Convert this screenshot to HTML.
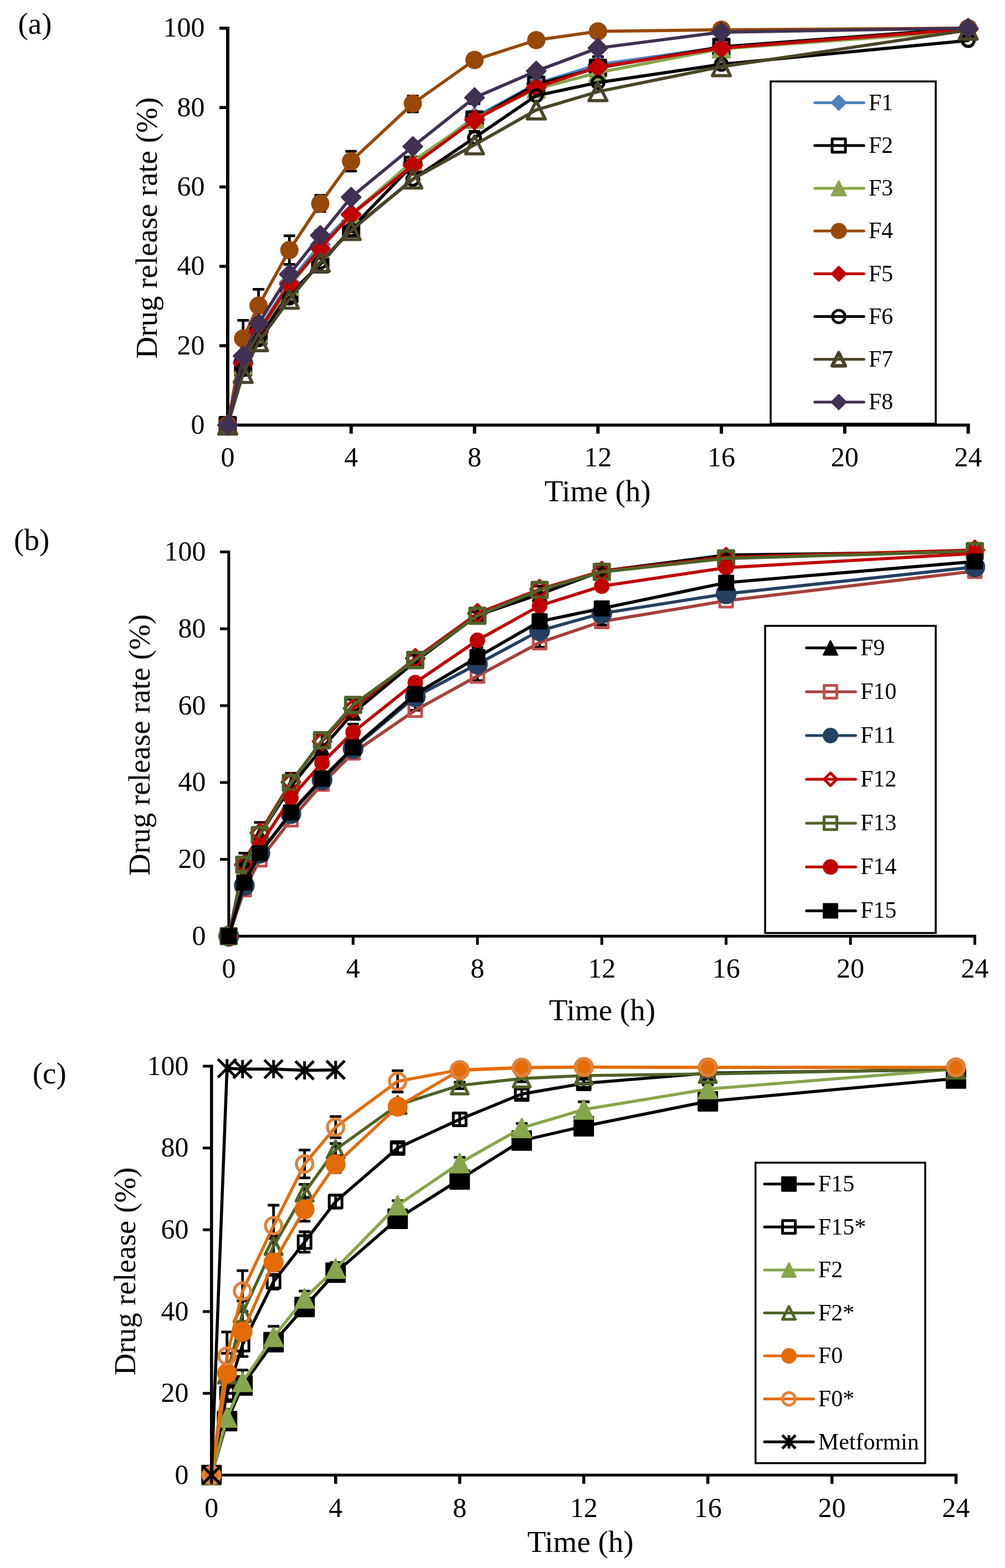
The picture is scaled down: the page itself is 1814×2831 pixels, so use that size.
<!DOCTYPE html>
<html><head><meta charset="utf-8"><title>Drug release profiles</title>
<style>html,body{margin:0;padding:0;background:#fff;}svg{display:block;}text{font-family:"Liberation Serif", "Times New Roman", serif;fill:#000;}</style>
</head><body>
<svg width="1814" height="2831" viewBox="0 0 1814 2831">
<rect width="1814" height="2831" fill="#fff"/>
<g>
<path d="M411 48.15L411 770.25" stroke="#000" stroke-width="6"/>
<path d="M408 767.5L1750.56 767.5" stroke="#000" stroke-width="5.5"/>
<path d="M396 767.5L411 767.5" stroke="#000" stroke-width="5.5"/>
<text x="369.5" y="782.9" text-anchor="end" font-size="50">0</text>
<path d="M396 624.18L411 624.18" stroke="#000" stroke-width="5.5"/>
<text x="369.5" y="639.58" text-anchor="end" font-size="50">20</text>
<path d="M396 480.86L411 480.86" stroke="#000" stroke-width="5.5"/>
<text x="369.5" y="496.26" text-anchor="end" font-size="50">40</text>
<path d="M396 337.54L411 337.54" stroke="#000" stroke-width="5.5"/>
<text x="369.5" y="352.94" text-anchor="end" font-size="50">60</text>
<path d="M396 194.22L411 194.22" stroke="#000" stroke-width="5.5"/>
<text x="369.5" y="209.62" text-anchor="end" font-size="50">80</text>
<path d="M396 50.9L411 50.9" stroke="#000" stroke-width="5.5"/>
<text x="369.5" y="66.3" text-anchor="end" font-size="50">100</text>
<path d="M411 767.5L411 783" stroke="#000" stroke-width="6"/>
<text x="411" y="842.3" text-anchor="middle" font-size="50">0</text>
<path d="M633.76 767.5L633.76 783" stroke="#000" stroke-width="6"/>
<text x="633.76" y="842.3" text-anchor="middle" font-size="50">4</text>
<path d="M856.52 767.5L856.52 783" stroke="#000" stroke-width="6"/>
<text x="856.52" y="842.3" text-anchor="middle" font-size="50">8</text>
<path d="M1079.28 767.5L1079.28 783" stroke="#000" stroke-width="6"/>
<text x="1079.28" y="842.3" text-anchor="middle" font-size="50">12</text>
<path d="M1302.04 767.5L1302.04 783" stroke="#000" stroke-width="6"/>
<text x="1302.04" y="842.3" text-anchor="middle" font-size="50">16</text>
<path d="M1524.8 767.5L1524.8 783" stroke="#000" stroke-width="6"/>
<text x="1524.8" y="842.3" text-anchor="middle" font-size="50">20</text>
<path d="M1747.56 767.5L1747.56 783" stroke="#000" stroke-width="6"/>
<text x="1747.56" y="842.3" text-anchor="middle" font-size="50">24</text>
<text x="1078.7" y="904.9" text-anchor="middle" font-size="55">Time (h)</text>
<text transform="translate(283.3 411.7) rotate(-90)" text-anchor="middle" font-size="55">Drug release rate (%)</text>
<text x="32.5" y="61.1" font-size="55">(a)</text>
<path d="M438.85 667.18L438.85 638.51M428.35 638.51L449.35 638.51M428.35 667.18L449.35 667.18" stroke="#000" stroke-width="4.8" fill="none"/>
<path d="M466.69 613.43L466.69 577.6M456.19 577.6L477.19 577.6M456.19 613.43L477.19 613.43" stroke="#000" stroke-width="4.8" fill="none"/>
<path d="M522.38 521.71L522.38 497.34M511.88 497.34L532.88 497.34M511.88 521.71L532.88 521.71" stroke="#000" stroke-width="4.8" fill="none"/>
<path d="M578.07 466.53L578.07 416.37M567.57 416.37L588.57 416.37M567.57 466.53L588.57 466.53" stroke="#000" stroke-width="4.8" fill="none"/>
<path d="M633.76 418.52L633.76 354.02M623.26 354.02L644.26 354.02M623.26 418.52L644.26 418.52" stroke="#000" stroke-width="4.8" fill="none"/>
<path d="M745.14 305.29L745.14 283.79M734.64 283.79L755.64 283.79M734.64 305.29L755.64 305.29" stroke="#000" stroke-width="4.8" fill="none"/>
<path d="M856.52 237.22L856.52 187.05M846.02 187.05L867.02 187.05M846.02 237.22L867.02 237.22" stroke="#000" stroke-width="4.8" fill="none"/>
<path d="M967.9 169.14L967.9 133.31M957.4 133.31L978.4 133.31M957.4 169.14L978.4 169.14" stroke="#000" stroke-width="4.8" fill="none"/>
<path d="M1079.28 131.16L1079.28 102.5M1068.78 102.5L1089.78 102.5M1068.78 131.16L1089.78 131.16" stroke="#000" stroke-width="4.8" fill="none"/>
<path d="M1302.04 96.05L1302.04 74.55M1291.54 74.55L1312.54 74.55M1291.54 96.05L1312.54 96.05" stroke="#000" stroke-width="4.8" fill="none"/>
<path d="M438.85 642.1L438.85 578.32M428.35 578.32L449.35 578.32M428.35 642.1L449.35 642.1" stroke="#000" stroke-width="4.8" fill="none"/>
<path d="M466.69 581.18L466.69 522.42M456.19 522.42L477.19 522.42M456.19 581.18L477.19 581.18" stroke="#000" stroke-width="4.8" fill="none"/>
<path d="M522.38 477.28L522.38 425.68M511.88 425.68L532.88 425.68M511.88 477.28L532.88 477.28" stroke="#000" stroke-width="4.8" fill="none"/>
<path d="M578.07 381.97L578.07 352.59M567.57 352.59L588.57 352.59M567.57 381.97L588.57 381.97" stroke="#000" stroke-width="4.8" fill="none"/>
<path d="M633.76 308.88L633.76 273.05M623.26 273.05L644.26 273.05M623.26 308.88L644.26 308.88" stroke="#000" stroke-width="4.8" fill="none"/>
<path d="M745.14 202.1L745.14 173.44M734.64 173.44L755.64 173.44M734.64 202.1L755.64 202.1" stroke="#000" stroke-width="4.8" fill="none"/>
<path d="M856.52 118.98L856.52 97.48M846.02 97.48L867.02 97.48M846.02 118.98L867.02 118.98" stroke="#000" stroke-width="4.8" fill="none"/>
<path d="M967.9 79.56L967.9 65.23M957.4 65.23L978.4 65.23M957.4 79.56L978.4 79.56" stroke="#000" stroke-width="4.8" fill="none"/>
<path d="M1079.28 61.65L1079.28 50.9M1068.78 50.9L1089.78 50.9M1068.78 61.65L1089.78 61.65" stroke="#000" stroke-width="4.8" fill="none"/>
<path d="M411 767.5 L438.85 652.84 L466.69 595.52 L522.38 509.52 L578.07 441.45 L633.76 386.27 L745.14 294.54 L856.52 212.13 L967.9 151.22 L1079.28 116.83 L1302.04 85.3 L1747.56 53.05" fill="none" stroke="#4F81BD" stroke-width="5.7" stroke-linejoin="round" stroke-linecap="round"/>
<polygon points="411,750.25 428.25,767.5 411,784.75 393.75,767.5" fill="#4F81BD" stroke="#4F81BD" stroke-width="3" stroke-linejoin="round"/>
<polygon points="438.85,635.59 456.1,652.84 438.85,670.09 421.6,652.84" fill="#4F81BD" stroke="#4F81BD" stroke-width="3" stroke-linejoin="round"/>
<polygon points="466.69,578.27 483.94,595.52 466.69,612.77 449.44,595.52" fill="#4F81BD" stroke="#4F81BD" stroke-width="3" stroke-linejoin="round"/>
<polygon points="522.38,492.27 539.63,509.52 522.38,526.77 505.13,509.52" fill="#4F81BD" stroke="#4F81BD" stroke-width="3" stroke-linejoin="round"/>
<polygon points="578.07,424.2 595.32,441.45 578.07,458.7 560.82,441.45" fill="#4F81BD" stroke="#4F81BD" stroke-width="3" stroke-linejoin="round"/>
<polygon points="633.76,369.02 651.01,386.27 633.76,403.52 616.51,386.27" fill="#4F81BD" stroke="#4F81BD" stroke-width="3" stroke-linejoin="round"/>
<polygon points="745.14,277.29 762.39,294.54 745.14,311.79 727.89,294.54" fill="#4F81BD" stroke="#4F81BD" stroke-width="3" stroke-linejoin="round"/>
<polygon points="856.52,194.88 873.77,212.13 856.52,229.38 839.27,212.13" fill="#4F81BD" stroke="#4F81BD" stroke-width="3" stroke-linejoin="round"/>
<polygon points="967.9,133.97 985.15,151.22 967.9,168.47 950.65,151.22" fill="#4F81BD" stroke="#4F81BD" stroke-width="3" stroke-linejoin="round"/>
<polygon points="1079.28,99.58 1096.53,116.83 1079.28,134.08 1062.03,116.83" fill="#4F81BD" stroke="#4F81BD" stroke-width="3" stroke-linejoin="round"/>
<polygon points="1302.04,68.05 1319.29,85.3 1302.04,102.55 1284.79,85.3" fill="#4F81BD" stroke="#4F81BD" stroke-width="3" stroke-linejoin="round"/>
<polygon points="1747.56,35.8 1764.81,53.05 1747.56,70.3 1730.31,53.05" fill="#4F81BD" stroke="#4F81BD" stroke-width="3" stroke-linejoin="round"/>
<path d="M411 767.5 L438.85 663.59 L466.69 606.26 L522.38 531.02 L578.07 477.28 L633.76 412.78 L745.14 297.41 L856.52 215.72 L967.9 152.66 L1079.28 122.56 L1302.04 84.58 L1747.56 50.9" fill="none" stroke="#000" stroke-width="5.7" stroke-linejoin="round" stroke-linecap="round"/>
<rect x="397.25" y="753.75" width="27.5" height="27.5" fill="none" stroke="#000" stroke-width="5.5" stroke-linejoin="round"/>
<rect x="425.1" y="649.84" width="27.5" height="27.5" fill="none" stroke="#000" stroke-width="5.5" stroke-linejoin="round"/>
<rect x="452.94" y="592.51" width="27.5" height="27.5" fill="none" stroke="#000" stroke-width="5.5" stroke-linejoin="round"/>
<rect x="508.63" y="517.27" width="27.5" height="27.5" fill="none" stroke="#000" stroke-width="5.5" stroke-linejoin="round"/>
<rect x="564.32" y="463.53" width="27.5" height="27.5" fill="none" stroke="#000" stroke-width="5.5" stroke-linejoin="round"/>
<rect x="620.01" y="399.03" width="27.5" height="27.5" fill="none" stroke="#000" stroke-width="5.5" stroke-linejoin="round"/>
<rect x="731.39" y="283.66" width="27.5" height="27.5" fill="none" stroke="#000" stroke-width="5.5" stroke-linejoin="round"/>
<rect x="842.77" y="201.97" width="27.5" height="27.5" fill="none" stroke="#000" stroke-width="5.5" stroke-linejoin="round"/>
<rect x="954.15" y="138.91" width="27.5" height="27.5" fill="none" stroke="#000" stroke-width="5.5" stroke-linejoin="round"/>
<rect x="1065.53" y="108.81" width="27.5" height="27.5" fill="none" stroke="#000" stroke-width="5.5" stroke-linejoin="round"/>
<rect x="1288.29" y="70.83" width="27.5" height="27.5" fill="none" stroke="#000" stroke-width="5.5" stroke-linejoin="round"/>
<path d="M411 767.5 L438.85 660.01 L466.69 602.68 L522.38 516.69 L578.07 448.61 L633.76 387.7 L745.14 290.96 L856.52 214.28 L967.9 160.54 L1079.28 131.16 L1302.04 88.16 L1747.56 55.92" fill="none" stroke="#87A54C" stroke-width="5.7" stroke-linejoin="round" stroke-linecap="round"/>
<polygon points="411,751.5 427,783.5 395,783.5" fill="#87A54C" stroke="#87A54C" stroke-width="3" stroke-linejoin="round"/>
<polygon points="438.85,644.01 454.85,676.01 422.85,676.01" fill="#87A54C" stroke="#87A54C" stroke-width="3" stroke-linejoin="round"/>
<polygon points="466.69,586.68 482.69,618.68 450.69,618.68" fill="#87A54C" stroke="#87A54C" stroke-width="3" stroke-linejoin="round"/>
<polygon points="522.38,500.69 538.38,532.69 506.38,532.69" fill="#87A54C" stroke="#87A54C" stroke-width="3" stroke-linejoin="round"/>
<polygon points="578.07,432.61 594.07,464.61 562.07,464.61" fill="#87A54C" stroke="#87A54C" stroke-width="3" stroke-linejoin="round"/>
<polygon points="633.76,371.7 649.76,403.7 617.76,403.7" fill="#87A54C" stroke="#87A54C" stroke-width="3" stroke-linejoin="round"/>
<polygon points="745.14,274.96 761.14,306.96 729.14,306.96" fill="#87A54C" stroke="#87A54C" stroke-width="3" stroke-linejoin="round"/>
<polygon points="856.52,198.28 872.52,230.28 840.52,230.28" fill="#87A54C" stroke="#87A54C" stroke-width="3" stroke-linejoin="round"/>
<polygon points="967.9,144.54 983.9,176.54 951.9,176.54" fill="#87A54C" stroke="#87A54C" stroke-width="3" stroke-linejoin="round"/>
<polygon points="1079.28,115.16 1095.28,147.16 1063.28,147.16" fill="#87A54C" stroke="#87A54C" stroke-width="3" stroke-linejoin="round"/>
<polygon points="1302.04,72.16 1318.04,104.16 1286.04,104.16" fill="#87A54C" stroke="#87A54C" stroke-width="3" stroke-linejoin="round"/>
<polygon points="1747.56,39.92 1763.56,71.92 1731.56,71.92" fill="#87A54C" stroke="#87A54C" stroke-width="3" stroke-linejoin="round"/>
<path d="M411 767.5 L438.85 611.28 L466.69 551.8 L522.38 451.48 L578.07 367.64 L633.76 290.96 L745.14 187.05 L856.52 108.23 L967.9 72.4 L1079.28 56.63 L1302.04 53.77 L1747.56 50.9" fill="none" stroke="#984807" stroke-width="5.7" stroke-linejoin="round" stroke-linecap="round"/>
<circle cx="411" cy="767.5" r="15" fill="#984807" stroke="#984807" stroke-width="3" stroke-linejoin="round"/>
<circle cx="438.85" cy="611.28" r="15" fill="#984807" stroke="#984807" stroke-width="3" stroke-linejoin="round"/>
<circle cx="466.69" cy="551.8" r="15" fill="#984807" stroke="#984807" stroke-width="3" stroke-linejoin="round"/>
<circle cx="522.38" cy="451.48" r="15" fill="#984807" stroke="#984807" stroke-width="3" stroke-linejoin="round"/>
<circle cx="578.07" cy="367.64" r="15" fill="#984807" stroke="#984807" stroke-width="3" stroke-linejoin="round"/>
<circle cx="633.76" cy="290.96" r="15" fill="#984807" stroke="#984807" stroke-width="3" stroke-linejoin="round"/>
<circle cx="745.14" cy="187.05" r="15" fill="#984807" stroke="#984807" stroke-width="3" stroke-linejoin="round"/>
<circle cx="856.52" cy="108.23" r="15" fill="#984807" stroke="#984807" stroke-width="3" stroke-linejoin="round"/>
<circle cx="967.9" cy="72.4" r="15" fill="#984807" stroke="#984807" stroke-width="3" stroke-linejoin="round"/>
<circle cx="1079.28" cy="56.63" r="15" fill="#984807" stroke="#984807" stroke-width="3" stroke-linejoin="round"/>
<circle cx="1302.04" cy="53.77" r="15" fill="#984807" stroke="#984807" stroke-width="3" stroke-linejoin="round"/>
<circle cx="1747.56" cy="50.9" r="15" fill="#984807" stroke="#984807" stroke-width="3" stroke-linejoin="round"/>
<path d="M411 767.5 L438.85 656.43 L466.69 599.1 L522.38 513.11 L578.07 448.61 L633.76 387.7 L745.14 298.49 L856.52 216.43 L967.9 157.67 L1079.28 121.13 L1302.04 86.73 L1747.56 52.33" fill="none" stroke="#C00000" stroke-width="5.7" stroke-linejoin="round" stroke-linecap="round"/>
<polygon points="411,750.25 428.25,767.5 411,784.75 393.75,767.5" fill="#C00000" stroke="#C00000" stroke-width="3" stroke-linejoin="round"/>
<polygon points="438.85,639.18 456.1,656.43 438.85,673.68 421.6,656.43" fill="#C00000" stroke="#C00000" stroke-width="3" stroke-linejoin="round"/>
<polygon points="466.69,581.85 483.94,599.1 466.69,616.35 449.44,599.1" fill="#C00000" stroke="#C00000" stroke-width="3" stroke-linejoin="round"/>
<polygon points="522.38,495.86 539.63,513.11 522.38,530.36 505.13,513.11" fill="#C00000" stroke="#C00000" stroke-width="3" stroke-linejoin="round"/>
<polygon points="578.07,431.36 595.32,448.61 578.07,465.86 560.82,448.61" fill="#C00000" stroke="#C00000" stroke-width="3" stroke-linejoin="round"/>
<polygon points="633.76,370.45 651.01,387.7 633.76,404.95 616.51,387.7" fill="#C00000" stroke="#C00000" stroke-width="3" stroke-linejoin="round"/>
<polygon points="745.14,281.24 762.39,298.49 745.14,315.74 727.89,298.49" fill="#C00000" stroke="#C00000" stroke-width="3" stroke-linejoin="round"/>
<polygon points="856.52,199.18 873.77,216.43 856.52,233.68 839.27,216.43" fill="#C00000" stroke="#C00000" stroke-width="3" stroke-linejoin="round"/>
<polygon points="967.9,140.42 985.15,157.67 967.9,174.92 950.65,157.67" fill="#C00000" stroke="#C00000" stroke-width="3" stroke-linejoin="round"/>
<polygon points="1079.28,103.88 1096.53,121.13 1079.28,138.38 1062.03,121.13" fill="#C00000" stroke="#C00000" stroke-width="3" stroke-linejoin="round"/>
<polygon points="1302.04,69.48 1319.29,86.73 1302.04,103.98 1284.79,86.73" fill="#C00000" stroke="#C00000" stroke-width="3" stroke-linejoin="round"/>
<polygon points="1747.56,35.08 1764.81,52.33 1747.56,69.58 1730.31,52.33" fill="#C00000" stroke="#C00000" stroke-width="3" stroke-linejoin="round"/>
<path d="M411 767.5 L438.85 667.18 L466.69 613.43 L522.38 538.19 L578.07 473.69 L633.76 414.93 L745.14 323.92 L856.52 248.68 L967.9 172.72 L1079.28 149.07 L1302.04 116.11 L1747.56 73.11" fill="none" stroke="#000" stroke-width="5.7" stroke-linejoin="round" stroke-linecap="round"/>
<circle cx="411" cy="767.5" r="10.75" fill="none" stroke="#000" stroke-width="5.5" stroke-linejoin="round"/>
<circle cx="438.85" cy="667.18" r="10.75" fill="none" stroke="#000" stroke-width="5.5" stroke-linejoin="round"/>
<circle cx="466.69" cy="613.43" r="10.75" fill="none" stroke="#000" stroke-width="5.5" stroke-linejoin="round"/>
<circle cx="522.38" cy="538.19" r="10.75" fill="none" stroke="#000" stroke-width="5.5" stroke-linejoin="round"/>
<circle cx="578.07" cy="473.69" r="10.75" fill="none" stroke="#000" stroke-width="5.5" stroke-linejoin="round"/>
<circle cx="633.76" cy="414.93" r="10.75" fill="none" stroke="#000" stroke-width="5.5" stroke-linejoin="round"/>
<circle cx="745.14" cy="323.92" r="10.75" fill="none" stroke="#000" stroke-width="5.5" stroke-linejoin="round"/>
<circle cx="856.52" cy="248.68" r="10.75" fill="none" stroke="#000" stroke-width="5.5" stroke-linejoin="round"/>
<circle cx="967.9" cy="172.72" r="10.75" fill="none" stroke="#000" stroke-width="5.5" stroke-linejoin="round"/>
<circle cx="1079.28" cy="149.07" r="10.75" fill="none" stroke="#000" stroke-width="5.5" stroke-linejoin="round"/>
<circle cx="1302.04" cy="116.11" r="10.75" fill="none" stroke="#000" stroke-width="5.5" stroke-linejoin="round"/>
<circle cx="1747.56" cy="73.11" r="10.75" fill="none" stroke="#000" stroke-width="5.5" stroke-linejoin="round"/>
<path d="M411 767.5 L438.85 674.34 L466.69 617.01 L522.38 540.34 L578.07 473.69 L633.76 416.37 L745.14 323.21 L856.52 261.58 L967.9 198.52 L1079.28 165.56 L1302.04 120.41 L1747.56 54.48" fill="none" stroke="#4A452A" stroke-width="5.7" stroke-linejoin="round" stroke-linecap="round"/>
<polygon points="411,751.35 427.15,783.65 394.85,783.65" fill="none" stroke="#4A452A" stroke-width="5.7" stroke-linejoin="round"/>
<polygon points="438.85,658.19 455,690.49 422.7,690.49" fill="none" stroke="#4A452A" stroke-width="5.7" stroke-linejoin="round"/>
<polygon points="466.69,600.86 482.84,633.16 450.54,633.16" fill="none" stroke="#4A452A" stroke-width="5.7" stroke-linejoin="round"/>
<polygon points="522.38,524.19 538.53,556.49 506.23,556.49" fill="none" stroke="#4A452A" stroke-width="5.7" stroke-linejoin="round"/>
<polygon points="578.07,457.54 594.22,489.84 561.92,489.84" fill="none" stroke="#4A452A" stroke-width="5.7" stroke-linejoin="round"/>
<polygon points="633.76,400.22 649.91,432.52 617.61,432.52" fill="none" stroke="#4A452A" stroke-width="5.7" stroke-linejoin="round"/>
<polygon points="745.14,307.06 761.29,339.36 728.99,339.36" fill="none" stroke="#4A452A" stroke-width="5.7" stroke-linejoin="round"/>
<polygon points="856.52,245.43 872.67,277.73 840.37,277.73" fill="none" stroke="#4A452A" stroke-width="5.7" stroke-linejoin="round"/>
<polygon points="967.9,182.37 984.05,214.67 951.75,214.67" fill="none" stroke="#4A452A" stroke-width="5.7" stroke-linejoin="round"/>
<polygon points="1079.28,149.41 1095.43,181.71 1063.13,181.71" fill="none" stroke="#4A452A" stroke-width="5.7" stroke-linejoin="round"/>
<polygon points="1302.04,104.26 1318.19,136.56 1285.89,136.56" fill="none" stroke="#4A452A" stroke-width="5.7" stroke-linejoin="round"/>
<polygon points="1747.56,38.33 1763.71,70.63 1731.41,70.63" fill="none" stroke="#4A452A" stroke-width="5.7" stroke-linejoin="round"/>
<path d="M411 767.5 L438.85 642.81 L466.69 584.05 L522.38 495.19 L578.07 424.97 L633.76 356.17 L745.14 264.45 L856.52 176.3 L967.9 128.29 L1079.28 86.73 L1302.04 58.07 L1747.56 50.9" fill="none" stroke="#403152" stroke-width="5.7" stroke-linejoin="round" stroke-linecap="round"/>
<polygon points="411,750.25 428.25,767.5 411,784.75 393.75,767.5" fill="#403152" stroke="#403152" stroke-width="3" stroke-linejoin="round"/>
<polygon points="438.85,625.56 456.1,642.81 438.85,660.06 421.6,642.81" fill="#403152" stroke="#403152" stroke-width="3" stroke-linejoin="round"/>
<polygon points="466.69,566.8 483.94,584.05 466.69,601.3 449.44,584.05" fill="#403152" stroke="#403152" stroke-width="3" stroke-linejoin="round"/>
<polygon points="522.38,477.94 539.63,495.19 522.38,512.44 505.13,495.19" fill="#403152" stroke="#403152" stroke-width="3" stroke-linejoin="round"/>
<polygon points="578.07,407.72 595.32,424.97 578.07,442.22 560.82,424.97" fill="#403152" stroke="#403152" stroke-width="3" stroke-linejoin="round"/>
<polygon points="633.76,338.92 651.01,356.17 633.76,373.42 616.51,356.17" fill="#403152" stroke="#403152" stroke-width="3" stroke-linejoin="round"/>
<polygon points="745.14,247.2 762.39,264.45 745.14,281.7 727.89,264.45" fill="#403152" stroke="#403152" stroke-width="3" stroke-linejoin="round"/>
<polygon points="856.52,159.05 873.77,176.3 856.52,193.55 839.27,176.3" fill="#403152" stroke="#403152" stroke-width="3" stroke-linejoin="round"/>
<polygon points="967.9,111.04 985.15,128.29 967.9,145.54 950.65,128.29" fill="#403152" stroke="#403152" stroke-width="3" stroke-linejoin="round"/>
<polygon points="1079.28,69.48 1096.53,86.73 1079.28,103.98 1062.03,86.73" fill="#403152" stroke="#403152" stroke-width="3" stroke-linejoin="round"/>
<polygon points="1302.04,40.82 1319.29,58.07 1302.04,75.32 1284.79,58.07" fill="#403152" stroke="#403152" stroke-width="3" stroke-linejoin="round"/>
<polygon points="1747.56,33.65 1764.81,50.9 1747.56,68.15 1730.31,50.9" fill="#403152" stroke="#403152" stroke-width="3" stroke-linejoin="round"/>
<rect x="1391" y="147" width="298" height="618" fill="#fff" stroke="#000" stroke-width="3.5"/>
<path d="M1470.8 185.5L1559.2 185.5" stroke="#4F81BD" stroke-width="5" stroke-linecap="round"/>
<polygon points="1514,172.5 1527,185.5 1514,198.5 1501,185.5" fill="#4F81BD" stroke="#4F81BD" stroke-width="3" stroke-linejoin="round"/>
<text x="1567.7" y="198.8" font-size="42">F1</text>
<path d="M1470.8 262.7L1559.2 262.7" stroke="#000" stroke-width="5" stroke-linecap="round"/>
<rect x="1502" y="250.7" width="24" height="24" fill="none" stroke="#000" stroke-width="5" stroke-linejoin="round"/>
<text x="1567.7" y="276" font-size="42">F2</text>
<path d="M1470.8 339.9L1559.2 339.9" stroke="#87A54C" stroke-width="5" stroke-linecap="round"/>
<polygon points="1514,326.9 1527,352.9 1501,352.9" fill="#87A54C" stroke="#87A54C" stroke-width="3" stroke-linejoin="round"/>
<text x="1567.7" y="353.2" font-size="42">F3</text>
<path d="M1470.8 417.1L1559.2 417.1" stroke="#984807" stroke-width="5" stroke-linecap="round"/>
<circle cx="1514" cy="417.1" r="13" fill="#984807" stroke="#984807" stroke-width="3" stroke-linejoin="round"/>
<text x="1567.7" y="430.4" font-size="42">F4</text>
<path d="M1470.8 494.3L1559.2 494.3" stroke="#C00000" stroke-width="5" stroke-linecap="round"/>
<polygon points="1514,481.3 1527,494.3 1514,507.3 1501,494.3" fill="#C00000" stroke="#C00000" stroke-width="3" stroke-linejoin="round"/>
<text x="1567.7" y="507.6" font-size="42">F5</text>
<path d="M1470.8 571.5L1559.2 571.5" stroke="#000" stroke-width="5" stroke-linecap="round"/>
<circle cx="1514" cy="571.5" r="11.35" fill="none" stroke="#000" stroke-width="4.8" stroke-linejoin="round"/>
<text x="1567.7" y="584.8" font-size="42">F6</text>
<path d="M1470.8 648.7L1559.2 648.7" stroke="#4A452A" stroke-width="5" stroke-linecap="round"/>
<polygon points="1514,636.95 1525.75,660.45 1502.25,660.45" fill="none" stroke="#4A452A" stroke-width="6.5" stroke-linejoin="round"/>
<text x="1567.7" y="662" font-size="42">F7</text>
<path d="M1470.8 725.9L1559.2 725.9" stroke="#403152" stroke-width="5" stroke-linecap="round"/>
<polygon points="1514,712.9 1527,725.9 1514,738.9 1501,725.9" fill="#403152" stroke="#403152" stroke-width="3" stroke-linejoin="round"/>
<text x="1567.7" y="739.2" font-size="42">F8</text>
</g>
<g>
<path d="M412.9 994L412.9 1692.8" stroke="#000" stroke-width="5"/>
<path d="M410.4 1690.3L1762.04 1690.3" stroke="#000" stroke-width="5"/>
<path d="M397 1690.3L412.9 1690.3" stroke="#000" stroke-width="5"/>
<text x="371.5" y="1705.8" text-anchor="end" font-size="50">0</text>
<path d="M397 1551.54L412.9 1551.54" stroke="#000" stroke-width="5"/>
<text x="371.5" y="1567.04" text-anchor="end" font-size="50">20</text>
<path d="M397 1412.78L412.9 1412.78" stroke="#000" stroke-width="5"/>
<text x="371.5" y="1428.28" text-anchor="end" font-size="50">40</text>
<path d="M397 1274.02L412.9 1274.02" stroke="#000" stroke-width="5"/>
<text x="371.5" y="1289.52" text-anchor="end" font-size="50">60</text>
<path d="M397 1135.26L412.9 1135.26" stroke="#000" stroke-width="5"/>
<text x="371.5" y="1150.76" text-anchor="end" font-size="50">80</text>
<path d="M397 996.5L412.9 996.5" stroke="#000" stroke-width="5"/>
<text x="371.5" y="1012" text-anchor="end" font-size="50">100</text>
<path d="M412.9 1690.3L412.9 1705.8" stroke="#000" stroke-width="5"/>
<text x="412.9" y="1765.3" text-anchor="middle" font-size="50">0</text>
<path d="M637.34 1690.3L637.34 1705.8" stroke="#000" stroke-width="5"/>
<text x="637.34" y="1765.3" text-anchor="middle" font-size="50">4</text>
<path d="M861.78 1690.3L861.78 1705.8" stroke="#000" stroke-width="5"/>
<text x="861.78" y="1765.3" text-anchor="middle" font-size="50">8</text>
<path d="M1086.22 1690.3L1086.22 1705.8" stroke="#000" stroke-width="5"/>
<text x="1086.22" y="1765.3" text-anchor="middle" font-size="50">12</text>
<path d="M1310.66 1690.3L1310.66 1705.8" stroke="#000" stroke-width="5"/>
<text x="1310.66" y="1765.3" text-anchor="middle" font-size="50">16</text>
<path d="M1535.1 1690.3L1535.1 1705.8" stroke="#000" stroke-width="5"/>
<text x="1535.1" y="1765.3" text-anchor="middle" font-size="50">20</text>
<path d="M1759.54 1690.3L1759.54 1705.8" stroke="#000" stroke-width="5"/>
<text x="1759.54" y="1765.3" text-anchor="middle" font-size="50">24</text>
<text x="1087" y="1842" text-anchor="middle" font-size="55">Time (h)</text>
<text transform="translate(269.5 1345) rotate(-90)" text-anchor="middle" font-size="55">Drug release rate (%)</text>
<text x="25.1" y="992.5" font-size="55">(b)</text>
<path d="M440.95 1609.13L440.95 1588.31M430.45 1588.31L451.45 1588.31M430.45 1609.13L451.45 1609.13" stroke="#000" stroke-width="4.8" fill="none"/>
<path d="M469.01 1550.85L469.01 1530.03M458.51 1530.03L479.51 1530.03M458.51 1550.85L479.51 1550.85" stroke="#000" stroke-width="4.8" fill="none"/>
<path d="M525.12 1482.85L525.12 1455.1M514.62 1455.1L535.62 1455.1M514.62 1482.85L535.62 1482.85" stroke="#000" stroke-width="4.8" fill="none"/>
<path d="M581.23 1421.8L581.23 1394.05M570.73 1394.05L591.73 1394.05M570.73 1421.8L591.73 1421.8" stroke="#000" stroke-width="4.8" fill="none"/>
<path d="M637.34 1369.07L637.34 1334.38M626.84 1334.38L647.84 1334.38M626.84 1369.07L647.84 1369.07" stroke="#000" stroke-width="4.8" fill="none"/>
<path d="M749.56 1282.35L749.56 1233.78M739.06 1233.78L760.06 1233.78M739.06 1282.35L760.06 1282.35" stroke="#000" stroke-width="4.8" fill="none"/>
<path d="M861.78 1228.92L861.78 1169.26M851.28 1169.26L872.28 1169.26M851.28 1228.92L872.28 1228.92" stroke="#000" stroke-width="4.8" fill="none"/>
<path d="M974 1168.56L974 1108.9M963.5 1108.9L984.5 1108.9M963.5 1168.56L984.5 1168.56" stroke="#000" stroke-width="4.8" fill="none"/>
<path d="M1086.22 1128.32L1086.22 1086.69M1075.72 1086.69L1096.72 1086.69M1075.72 1128.32L1096.72 1128.32" stroke="#000" stroke-width="4.8" fill="none"/>
<path d="M1310.66 1086L1310.66 1058.25M1300.16 1058.25L1321.16 1058.25M1300.16 1086L1321.16 1086" stroke="#000" stroke-width="4.8" fill="none"/>
<path d="M1759.54 1030.5L1759.54 1016.62M1749.04 1016.62L1770.04 1016.62M1749.04 1030.5L1770.04 1030.5" stroke="#000" stroke-width="4.8" fill="none"/>
<path d="M440.95 1582.07L440.95 1540.44M430.45 1540.44L451.45 1540.44M430.45 1582.07L451.45 1582.07" stroke="#000" stroke-width="4.8" fill="none"/>
<path d="M469.01 1530.73L469.01 1484.94M458.51 1484.94L479.51 1484.94M458.51 1530.73L479.51 1530.73" stroke="#000" stroke-width="4.8" fill="none"/>
<path d="M525.12 1430.82L525.12 1396.13M514.62 1396.13L535.62 1396.13M514.62 1430.82L535.62 1430.82" stroke="#000" stroke-width="4.8" fill="none"/>
<path d="M581.23 1346.87L581.23 1326.05M570.73 1326.05L591.73 1326.05M570.73 1346.87L591.73 1346.87" stroke="#000" stroke-width="4.8" fill="none"/>
<path d="M637.34 1283.04L637.34 1262.23M626.84 1262.23L647.84 1262.23M626.84 1283.04L647.84 1283.04" stroke="#000" stroke-width="4.8" fill="none"/>
<path d="M749.56 1199.78L749.56 1183.13M739.06 1183.13L760.06 1183.13M739.06 1199.78L760.06 1199.78" stroke="#000" stroke-width="4.8" fill="none"/>
<path d="M861.78 1118.61L861.78 1104.73M851.28 1104.73L872.28 1104.73M851.28 1118.61L872.28 1118.61" stroke="#000" stroke-width="4.8" fill="none"/>
<path d="M974 1072.12L974 1058.25M963.5 1058.25L984.5 1058.25M963.5 1072.12L984.5 1072.12" stroke="#000" stroke-width="4.8" fill="none"/>
<path d="M1086.22 1038.13L1086.22 1027.03M1075.72 1027.03L1096.72 1027.03M1075.72 1038.13L1096.72 1038.13" stroke="#000" stroke-width="4.8" fill="none"/>
<path d="M1310.66 1012.46L1310.66 1004.13M1300.16 1004.13L1321.16 1004.13M1300.16 1012.46L1321.16 1012.46" stroke="#000" stroke-width="4.8" fill="none"/>
<path d="M469.01 1533.5L469.01 1519.63M458.51 1519.63L479.51 1519.63M458.51 1533.5L479.51 1533.5" stroke="#000" stroke-width="4.8" fill="none"/>
<path d="M525.12 1447.47L525.12 1433.59M514.62 1433.59L535.62 1433.59M514.62 1447.47L535.62 1447.47" stroke="#000" stroke-width="4.8" fill="none"/>
<path d="M581.23 1384.33L581.23 1370.46M570.73 1370.46L591.73 1370.46M570.73 1384.33L591.73 1384.33" stroke="#000" stroke-width="4.8" fill="none"/>
<path d="M637.34 1336.46L637.34 1307.32M626.84 1307.32L647.84 1307.32M626.84 1336.46L647.84 1336.46" stroke="#000" stroke-width="4.8" fill="none"/>
<path d="M749.56 1239.33L749.56 1225.45M739.06 1225.45L760.06 1225.45M739.06 1239.33L760.06 1239.33" stroke="#000" stroke-width="4.8" fill="none"/>
<path d="M861.78 1163.01L861.78 1149.14M851.28 1149.14L872.28 1149.14M851.28 1163.01L872.28 1163.01" stroke="#000" stroke-width="4.8" fill="none"/>
<path d="M974 1100.57L974 1086.69M963.5 1086.69L984.5 1086.69M963.5 1100.57L984.5 1100.57" stroke="#000" stroke-width="4.8" fill="none"/>
<path d="M1086.22 1065.19L1086.22 1051.31M1075.72 1051.31L1096.72 1051.31M1075.72 1065.19L1096.72 1065.19" stroke="#000" stroke-width="4.8" fill="none"/>
<path d="M1310.66 1031.88L1310.66 1018.01M1300.16 1018.01L1321.16 1018.01M1300.16 1031.88L1321.16 1031.88" stroke="#000" stroke-width="4.8" fill="none"/>
<path d="M412.9 1690.3 L440.95 1555.01 L469.01 1507.14 L525.12 1419.72 L581.23 1351.03 L637.34 1287.2 L749.56 1194.23 L861.78 1110.98 L974 1072.82 L1086.22 1031.19 L1310.66 1002.05 L1759.54 996.5" fill="none" stroke="#000" stroke-width="5.7" stroke-linejoin="round" stroke-linecap="round"/>
<polygon points="412.9,1677.8 425.4,1702.8 400.4,1702.8" fill="#000" stroke="#000" stroke-width="3" stroke-linejoin="round"/>
<polygon points="440.95,1542.51 453.45,1567.51 428.45,1567.51" fill="#000" stroke="#000" stroke-width="3" stroke-linejoin="round"/>
<polygon points="469.01,1494.64 481.51,1519.64 456.51,1519.64" fill="#000" stroke="#000" stroke-width="3" stroke-linejoin="round"/>
<polygon points="525.12,1407.22 537.62,1432.22 512.62,1432.22" fill="#000" stroke="#000" stroke-width="3" stroke-linejoin="round"/>
<polygon points="581.23,1338.53 593.73,1363.53 568.73,1363.53" fill="#000" stroke="#000" stroke-width="3" stroke-linejoin="round"/>
<polygon points="637.34,1274.7 649.84,1299.7 624.84,1299.7" fill="#000" stroke="#000" stroke-width="3" stroke-linejoin="round"/>
<polygon points="749.56,1181.73 762.06,1206.73 737.06,1206.73" fill="#000" stroke="#000" stroke-width="3" stroke-linejoin="round"/>
<polygon points="861.78,1098.48 874.28,1123.48 849.28,1123.48" fill="#000" stroke="#000" stroke-width="3" stroke-linejoin="round"/>
<polygon points="974,1060.32 986.5,1085.32 961.5,1085.32" fill="#000" stroke="#000" stroke-width="3" stroke-linejoin="round"/>
<polygon points="1086.22,1018.69 1098.72,1043.69 1073.72,1043.69" fill="#000" stroke="#000" stroke-width="3" stroke-linejoin="round"/>
<polygon points="1310.66,989.55 1323.16,1014.55 1298.16,1014.55" fill="#000" stroke="#000" stroke-width="3" stroke-linejoin="round"/>
<polygon points="1759.54,984 1772.04,1009 1747.04,1009" fill="#000" stroke="#000" stroke-width="3" stroke-linejoin="round"/>
<path d="M412.9 1690.3 L440.95 1606.35 L469.01 1552.23 L525.12 1480.08 L581.23 1415.56 L637.34 1359.36 L749.56 1282.35 L861.78 1220.6 L974 1160.24 L1086.22 1122.08 L1310.66 1084.61 L1759.54 1031.19" fill="none" stroke="#A5403D" stroke-width="5.7" stroke-linejoin="round" stroke-linecap="round"/>
<rect x="401.4" y="1678.8" width="23" height="23" fill="none" stroke="#C0504D" stroke-width="5" stroke-linejoin="round"/>
<rect x="429.45" y="1594.85" width="23" height="23" fill="none" stroke="#C0504D" stroke-width="5" stroke-linejoin="round"/>
<rect x="457.51" y="1540.73" width="23" height="23" fill="none" stroke="#C0504D" stroke-width="5" stroke-linejoin="round"/>
<rect x="513.62" y="1468.58" width="23" height="23" fill="none" stroke="#C0504D" stroke-width="5" stroke-linejoin="round"/>
<rect x="569.73" y="1404.06" width="23" height="23" fill="none" stroke="#C0504D" stroke-width="5" stroke-linejoin="round"/>
<rect x="625.84" y="1347.86" width="23" height="23" fill="none" stroke="#C0504D" stroke-width="5" stroke-linejoin="round"/>
<rect x="738.06" y="1270.85" width="23" height="23" fill="none" stroke="#C0504D" stroke-width="5" stroke-linejoin="round"/>
<rect x="850.28" y="1209.1" width="23" height="23" fill="none" stroke="#C0504D" stroke-width="5" stroke-linejoin="round"/>
<rect x="962.5" y="1148.74" width="23" height="23" fill="none" stroke="#C0504D" stroke-width="5" stroke-linejoin="round"/>
<rect x="1074.72" y="1110.58" width="23" height="23" fill="none" stroke="#C0504D" stroke-width="5" stroke-linejoin="round"/>
<rect x="1299.16" y="1073.11" width="23" height="23" fill="none" stroke="#C0504D" stroke-width="5" stroke-linejoin="round"/>
<rect x="1748.04" y="1019.69" width="23" height="23" fill="none" stroke="#C0504D" stroke-width="5" stroke-linejoin="round"/>
<path d="M412.9 1690.3 L440.95 1598.72 L469.01 1540.44 L525.12 1468.98 L581.23 1407.92 L637.34 1351.73 L749.56 1258.06 L861.78 1199.09 L974 1138.73 L1086.22 1107.51 L1310.66 1072.12 L1759.54 1023.56" fill="none" stroke="#254061" stroke-width="5.7" stroke-linejoin="round" stroke-linecap="round"/>
<circle cx="412.9" cy="1690.3" r="17.25" fill="#254061" stroke="#254061" stroke-width="3" stroke-linejoin="round"/>
<circle cx="440.95" cy="1598.72" r="17.25" fill="#254061" stroke="#254061" stroke-width="3" stroke-linejoin="round"/>
<circle cx="469.01" cy="1540.44" r="17.25" fill="#254061" stroke="#254061" stroke-width="3" stroke-linejoin="round"/>
<circle cx="525.12" cy="1468.98" r="17.25" fill="#254061" stroke="#254061" stroke-width="3" stroke-linejoin="round"/>
<circle cx="581.23" cy="1407.92" r="17.25" fill="#254061" stroke="#254061" stroke-width="3" stroke-linejoin="round"/>
<circle cx="637.34" cy="1351.73" r="17.25" fill="#254061" stroke="#254061" stroke-width="3" stroke-linejoin="round"/>
<circle cx="749.56" cy="1258.06" r="17.25" fill="#254061" stroke="#254061" stroke-width="3" stroke-linejoin="round"/>
<circle cx="861.78" cy="1199.09" r="17.25" fill="#254061" stroke="#254061" stroke-width="3" stroke-linejoin="round"/>
<circle cx="974" cy="1138.73" r="17.25" fill="#254061" stroke="#254061" stroke-width="3" stroke-linejoin="round"/>
<circle cx="1086.22" cy="1107.51" r="17.25" fill="#254061" stroke="#254061" stroke-width="3" stroke-linejoin="round"/>
<circle cx="1310.66" cy="1072.12" r="17.25" fill="#254061" stroke="#254061" stroke-width="3" stroke-linejoin="round"/>
<circle cx="1759.54" cy="1023.56" r="17.25" fill="#254061" stroke="#254061" stroke-width="3" stroke-linejoin="round"/>
<path d="M412.9 1690.3 L440.95 1561.25 L469.01 1503.67 L525.12 1412.09 L581.23 1338.54 L637.34 1278.88 L749.56 1188.68 L861.78 1107.51 L974 1063.8 L1086.22 1031.19 L1310.66 1006.21 L1759.54 993.03" fill="none" stroke="#C00000" stroke-width="5.7" stroke-linejoin="round" stroke-linecap="round"/>
<polygon points="412.9,1674.55 428.65,1690.3 412.9,1706.05 397.15,1690.3" fill="none" stroke="#C00000" stroke-width="5.5" stroke-linejoin="round"/>
<polygon points="440.95,1545.5 456.7,1561.25 440.95,1577 425.2,1561.25" fill="none" stroke="#C00000" stroke-width="5.5" stroke-linejoin="round"/>
<polygon points="469.01,1487.92 484.76,1503.67 469.01,1519.42 453.26,1503.67" fill="none" stroke="#C00000" stroke-width="5.5" stroke-linejoin="round"/>
<polygon points="525.12,1396.34 540.87,1412.09 525.12,1427.84 509.37,1412.09" fill="none" stroke="#C00000" stroke-width="5.5" stroke-linejoin="round"/>
<polygon points="581.23,1322.79 596.98,1338.54 581.23,1354.29 565.48,1338.54" fill="none" stroke="#C00000" stroke-width="5.5" stroke-linejoin="round"/>
<polygon points="637.34,1263.13 653.09,1278.88 637.34,1294.63 621.59,1278.88" fill="none" stroke="#C00000" stroke-width="5.5" stroke-linejoin="round"/>
<polygon points="749.56,1172.93 765.31,1188.68 749.56,1204.43 733.81,1188.68" fill="none" stroke="#C00000" stroke-width="5.5" stroke-linejoin="round"/>
<polygon points="861.78,1091.76 877.53,1107.51 861.78,1123.26 846.03,1107.51" fill="none" stroke="#C00000" stroke-width="5.5" stroke-linejoin="round"/>
<polygon points="974,1048.05 989.75,1063.8 974,1079.55 958.25,1063.8" fill="none" stroke="#C00000" stroke-width="5.5" stroke-linejoin="round"/>
<polygon points="1086.22,1015.44 1101.97,1031.19 1086.22,1046.94 1070.47,1031.19" fill="none" stroke="#C00000" stroke-width="5.5" stroke-linejoin="round"/>
<polygon points="1310.66,990.46 1326.41,1006.21 1310.66,1021.96 1294.91,1006.21" fill="none" stroke="#C00000" stroke-width="5.5" stroke-linejoin="round"/>
<polygon points="1759.54,977.28 1775.29,993.03 1759.54,1008.78 1743.79,993.03" fill="none" stroke="#C00000" stroke-width="5.5" stroke-linejoin="round"/>
<path d="M412.9 1690.3 L440.95 1561.25 L469.01 1507.83 L525.12 1413.47 L581.23 1336.46 L637.34 1272.63 L749.56 1191.46 L861.78 1111.67 L974 1065.19 L1086.22 1032.58 L1310.66 1008.29 L1759.54 995.11" fill="none" stroke="#4F6228" stroke-width="5.7" stroke-linejoin="round" stroke-linecap="round"/>
<rect x="399.4" y="1676.8" width="27" height="27" fill="none" stroke="#4F6228" stroke-width="6" stroke-linejoin="round"/>
<rect x="427.45" y="1547.75" width="27" height="27" fill="none" stroke="#4F6228" stroke-width="6" stroke-linejoin="round"/>
<rect x="455.51" y="1494.33" width="27" height="27" fill="none" stroke="#4F6228" stroke-width="6" stroke-linejoin="round"/>
<rect x="511.62" y="1399.97" width="27" height="27" fill="none" stroke="#4F6228" stroke-width="6" stroke-linejoin="round"/>
<rect x="567.73" y="1322.96" width="27" height="27" fill="none" stroke="#4F6228" stroke-width="6" stroke-linejoin="round"/>
<rect x="623.84" y="1259.13" width="27" height="27" fill="none" stroke="#4F6228" stroke-width="6" stroke-linejoin="round"/>
<rect x="736.06" y="1177.96" width="27" height="27" fill="none" stroke="#4F6228" stroke-width="6" stroke-linejoin="round"/>
<rect x="848.28" y="1098.17" width="27" height="27" fill="none" stroke="#4F6228" stroke-width="6" stroke-linejoin="round"/>
<rect x="960.5" y="1051.69" width="27" height="27" fill="none" stroke="#4F6228" stroke-width="6" stroke-linejoin="round"/>
<rect x="1072.72" y="1019.08" width="27" height="27" fill="none" stroke="#4F6228" stroke-width="6" stroke-linejoin="round"/>
<rect x="1297.16" y="994.79" width="27" height="27" fill="none" stroke="#4F6228" stroke-width="6" stroke-linejoin="round"/>
<rect x="1746.04" y="981.61" width="27" height="27" fill="none" stroke="#4F6228" stroke-width="6" stroke-linejoin="round"/>
<path d="M412.9 1690.3 L440.95 1593.86 L469.01 1526.56 L525.12 1440.53 L581.23 1377.4 L637.34 1321.89 L749.56 1232.39 L861.78 1156.07 L974 1093.63 L1086.22 1058.25 L1310.66 1024.95 L1759.54 999.28" fill="none" stroke="#C00000" stroke-width="5.7" stroke-linejoin="round" stroke-linecap="round"/>
<circle cx="412.9" cy="1690.3" r="12.5" fill="#C00000" stroke="#C00000" stroke-width="3" stroke-linejoin="round"/>
<circle cx="440.95" cy="1593.86" r="12.5" fill="#C00000" stroke="#C00000" stroke-width="3" stroke-linejoin="round"/>
<circle cx="469.01" cy="1526.56" r="12.5" fill="#C00000" stroke="#C00000" stroke-width="3" stroke-linejoin="round"/>
<circle cx="525.12" cy="1440.53" r="12.5" fill="#C00000" stroke="#C00000" stroke-width="3" stroke-linejoin="round"/>
<circle cx="581.23" cy="1377.4" r="12.5" fill="#C00000" stroke="#C00000" stroke-width="3" stroke-linejoin="round"/>
<circle cx="637.34" cy="1321.89" r="12.5" fill="#C00000" stroke="#C00000" stroke-width="3" stroke-linejoin="round"/>
<circle cx="749.56" cy="1232.39" r="12.5" fill="#C00000" stroke="#C00000" stroke-width="3" stroke-linejoin="round"/>
<circle cx="861.78" cy="1156.07" r="12.5" fill="#C00000" stroke="#C00000" stroke-width="3" stroke-linejoin="round"/>
<circle cx="974" cy="1093.63" r="12.5" fill="#C00000" stroke="#C00000" stroke-width="3" stroke-linejoin="round"/>
<circle cx="1086.22" cy="1058.25" r="12.5" fill="#C00000" stroke="#C00000" stroke-width="3" stroke-linejoin="round"/>
<circle cx="1310.66" cy="1024.95" r="12.5" fill="#C00000" stroke="#C00000" stroke-width="3" stroke-linejoin="round"/>
<circle cx="1759.54" cy="999.28" r="12.5" fill="#C00000" stroke="#C00000" stroke-width="3" stroke-linejoin="round"/>
<path d="M412.9 1690.3 L440.95 1593.17 L469.01 1540.44 L525.12 1466.9 L581.23 1405.84 L637.34 1349.64 L749.56 1253.21 L861.78 1186.6 L974 1122.08 L1086.22 1098.49 L1310.66 1052 L1759.54 1013.85" fill="none" stroke="#000" stroke-width="5.7" stroke-linejoin="round" stroke-linecap="round"/>
<rect x="399.9" y="1677.3" width="26" height="26" fill="#000" stroke="#000" stroke-width="3" stroke-linejoin="round"/>
<rect x="427.95" y="1580.17" width="26" height="26" fill="#000" stroke="#000" stroke-width="3" stroke-linejoin="round"/>
<rect x="456.01" y="1527.44" width="26" height="26" fill="#000" stroke="#000" stroke-width="3" stroke-linejoin="round"/>
<rect x="512.12" y="1453.9" width="26" height="26" fill="#000" stroke="#000" stroke-width="3" stroke-linejoin="round"/>
<rect x="568.23" y="1392.84" width="26" height="26" fill="#000" stroke="#000" stroke-width="3" stroke-linejoin="round"/>
<rect x="624.34" y="1336.64" width="26" height="26" fill="#000" stroke="#000" stroke-width="3" stroke-linejoin="round"/>
<rect x="736.56" y="1240.21" width="26" height="26" fill="#000" stroke="#000" stroke-width="3" stroke-linejoin="round"/>
<rect x="848.78" y="1173.6" width="26" height="26" fill="#000" stroke="#000" stroke-width="3" stroke-linejoin="round"/>
<rect x="961" y="1109.08" width="26" height="26" fill="#000" stroke="#000" stroke-width="3" stroke-linejoin="round"/>
<rect x="1073.22" y="1085.49" width="26" height="26" fill="#000" stroke="#000" stroke-width="3" stroke-linejoin="round"/>
<rect x="1297.66" y="1039" width="26" height="26" fill="#000" stroke="#000" stroke-width="3" stroke-linejoin="round"/>
<rect x="1746.54" y="1000.85" width="26" height="26" fill="#000" stroke="#000" stroke-width="3" stroke-linejoin="round"/>
<rect x="1381" y="1130" width="308" height="554.5" fill="#fff" stroke="#000" stroke-width="3.5"/>
<path d="M1455.7 1169.8L1544.3 1169.8" stroke="#000" stroke-width="5" stroke-linecap="round"/>
<polygon points="1499,1157.3 1511.5,1182.3 1486.5,1182.3" fill="#000" stroke="#000" stroke-width="3" stroke-linejoin="round"/>
<text x="1553" y="1182.8" font-size="42">F9</text>
<path d="M1455.7 1248.9L1544.3 1248.9" stroke="#A5403D" stroke-width="5" stroke-linecap="round"/>
<rect x="1487.5" y="1237.4" width="23" height="23" fill="none" stroke="#C0504D" stroke-width="5" stroke-linejoin="round"/>
<text x="1553" y="1261.9" font-size="42">F10</text>
<path d="M1455.7 1328L1544.3 1328" stroke="#254061" stroke-width="5" stroke-linecap="round"/>
<circle cx="1499" cy="1328" r="12.5" fill="#254061" stroke="#254061" stroke-width="3" stroke-linejoin="round"/>
<text x="1553" y="1341" font-size="42">F11</text>
<path d="M1455.7 1407.1L1544.3 1407.1" stroke="#C00000" stroke-width="5" stroke-linecap="round"/>
<polygon points="1499,1395.6 1510.5,1407.1 1499,1418.6 1487.5,1407.1" fill="none" stroke="#C00000" stroke-width="5" stroke-linejoin="round"/>
<text x="1553" y="1420.1" font-size="42">F12</text>
<path d="M1455.7 1486.2L1544.3 1486.2" stroke="#4F6228" stroke-width="5" stroke-linecap="round"/>
<rect x="1487.5" y="1474.7" width="23" height="23" fill="none" stroke="#4F6228" stroke-width="5" stroke-linejoin="round"/>
<text x="1553" y="1499.2" font-size="42">F13</text>
<path d="M1455.7 1565.3L1544.3 1565.3" stroke="#C00000" stroke-width="5" stroke-linecap="round"/>
<circle cx="1499" cy="1565.3" r="12.5" fill="#C00000" stroke="#C00000" stroke-width="3" stroke-linejoin="round"/>
<text x="1553" y="1578.3" font-size="42">F14</text>
<path d="M1455.7 1644.4L1544.3 1644.4" stroke="#000" stroke-width="5" stroke-linecap="round"/>
<rect x="1486.5" y="1631.9" width="25" height="25" fill="#000" stroke="#000" stroke-width="3" stroke-linejoin="round"/>
<text x="1553" y="1657.4" font-size="42">F15</text>
</g>
<g>
<path d="M381.8 1922.5L381.8 2665.8" stroke="#000" stroke-width="5.5"/>
<path d="M379.05 2663.3L1728.31 2663.3" stroke="#000" stroke-width="5"/>
<path d="M366 2663.3L381.8 2663.3" stroke="#000" stroke-width="5"/>
<text x="340.5" y="2679.1" text-anchor="end" font-size="50">0</text>
<path d="M366 2515.64L381.8 2515.64" stroke="#000" stroke-width="5"/>
<text x="340.5" y="2531.44" text-anchor="end" font-size="50">20</text>
<path d="M366 2367.98L381.8 2367.98" stroke="#000" stroke-width="5"/>
<text x="340.5" y="2383.78" text-anchor="end" font-size="50">40</text>
<path d="M366 2220.32L381.8 2220.32" stroke="#000" stroke-width="5"/>
<text x="340.5" y="2236.12" text-anchor="end" font-size="50">60</text>
<path d="M366 2072.66L381.8 2072.66" stroke="#000" stroke-width="5"/>
<text x="340.5" y="2088.46" text-anchor="end" font-size="50">80</text>
<path d="M366 1925L381.8 1925" stroke="#000" stroke-width="5"/>
<text x="340.5" y="1940.8" text-anchor="end" font-size="50">100</text>
<path d="M381.8 2663.3L381.8 2679" stroke="#000" stroke-width="5.5"/>
<text x="381.8" y="2738.5" text-anchor="middle" font-size="50">0</text>
<path d="M605.76 2663.3L605.76 2679" stroke="#000" stroke-width="5.5"/>
<text x="605.76" y="2738.5" text-anchor="middle" font-size="50">4</text>
<path d="M829.72 2663.3L829.72 2679" stroke="#000" stroke-width="5.5"/>
<text x="829.72" y="2738.5" text-anchor="middle" font-size="50">8</text>
<path d="M1053.68 2663.3L1053.68 2679" stroke="#000" stroke-width="5.5"/>
<text x="1053.68" y="2738.5" text-anchor="middle" font-size="50">12</text>
<path d="M1277.64 2663.3L1277.64 2679" stroke="#000" stroke-width="5.5"/>
<text x="1277.64" y="2738.5" text-anchor="middle" font-size="50">16</text>
<path d="M1501.6 2663.3L1501.6 2679" stroke="#000" stroke-width="5.5"/>
<text x="1501.6" y="2738.5" text-anchor="middle" font-size="50">20</text>
<path d="M1725.56 2663.3L1725.56 2679" stroke="#000" stroke-width="5.5"/>
<text x="1725.56" y="2738.5" text-anchor="middle" font-size="50">24</text>
<text x="1047.7" y="2801.8" text-anchor="middle" font-size="55">Time (h)</text>
<text transform="translate(243.6 2295.4) rotate(-90)" text-anchor="middle" font-size="55">Drug release (%)</text>
<text x="58.8" y="1955.5" font-size="55">(c)</text>
<path d="M409.8 2576.92L409.8 2554.77M399.3 2554.77L420.3 2554.77M399.3 2576.92L420.3 2576.92" stroke="#000" stroke-width="4.8" fill="none"/>
<path d="M437.79 2512.69L437.79 2490.54M427.29 2490.54L448.29 2490.54M427.29 2512.69L448.29 2512.69" stroke="#000" stroke-width="4.8" fill="none"/>
<path d="M493.78 2434.43L493.78 2412.28M483.28 2412.28L504.28 2412.28M483.28 2434.43L504.28 2434.43" stroke="#000" stroke-width="4.8" fill="none"/>
<path d="M549.77 2370.93L549.77 2348.78M539.27 2348.78L560.27 2348.78M539.27 2370.93L560.27 2370.93" stroke="#000" stroke-width="4.8" fill="none"/>
<path d="M605.76 2308.92L605.76 2286.77M595.26 2286.77L616.26 2286.77M595.26 2308.92L616.26 2308.92" stroke="#000" stroke-width="4.8" fill="none"/>
<path d="M717.74 2209.25L717.74 2191.53M707.24 2191.53L728.24 2191.53M707.24 2209.25L728.24 2209.25" stroke="#000" stroke-width="4.8" fill="none"/>
<path d="M829.72 2138.37L829.72 2120.65M819.22 2120.65L840.22 2120.65M819.22 2138.37L840.22 2138.37" stroke="#000" stroke-width="4.8" fill="none"/>
<path d="M941.7 2068.23L941.7 2050.51M931.2 2050.51L952.2 2050.51M931.2 2068.23L952.2 2068.23" stroke="#000" stroke-width="4.8" fill="none"/>
<path d="M1053.68 2042.39L1053.68 2024.67M1043.18 2024.67L1064.18 2024.67M1043.18 2042.39L1064.18 2042.39" stroke="#000" stroke-width="4.8" fill="none"/>
<path d="M1277.64 1995.88L1277.64 1981.11M1267.14 1981.11L1288.14 1981.11M1267.14 1995.88L1288.14 1995.88" stroke="#000" stroke-width="4.8" fill="none"/>
<path d="M409.8 2530.41L409.8 2500.87M399.3 2500.87L420.3 2500.87M399.3 2530.41L420.3 2530.41" stroke="#000" stroke-width="4.8" fill="none"/>
<path d="M437.79 2449.19L437.79 2406.37M427.29 2406.37L448.29 2406.37M427.29 2449.19L448.29 2449.19" stroke="#000" stroke-width="4.8" fill="none"/>
<path d="M493.78 2327.37L493.78 2300.79M483.28 2300.79L504.28 2300.79M483.28 2327.37L504.28 2327.37" stroke="#000" stroke-width="4.8" fill="none"/>
<path d="M549.77 2260.93L549.77 2224.01M539.27 2224.01L560.27 2224.01M539.27 2260.93L560.27 2260.93" stroke="#000" stroke-width="4.8" fill="none"/>
<path d="M605.76 2181.19L605.76 2157.56M595.26 2157.56L616.26 2157.56M595.26 2181.19L616.26 2181.19" stroke="#000" stroke-width="4.8" fill="none"/>
<path d="M717.74 2081.52L717.74 2063.8M707.24 2063.8L728.24 2063.8M707.24 2081.52L728.24 2081.52" stroke="#000" stroke-width="4.8" fill="none"/>
<path d="M829.72 2032.05L829.72 2009.9M819.22 2009.9L840.22 2009.9M819.22 2032.05L840.22 2032.05" stroke="#000" stroke-width="4.8" fill="none"/>
<path d="M941.7 1984.06L941.7 1966.34M931.2 1966.34L952.2 1966.34M931.2 1984.06L952.2 1984.06" stroke="#000" stroke-width="4.8" fill="none"/>
<path d="M1053.68 1963.39L1053.68 1948.63M1043.18 1948.63L1064.18 1948.63M1043.18 1963.39L1064.18 1963.39" stroke="#000" stroke-width="4.8" fill="none"/>
<path d="M1277.64 1943.46L1277.64 1931.64M1267.14 1931.64L1288.14 1931.64M1267.14 1943.46L1288.14 1943.46" stroke="#000" stroke-width="4.8" fill="none"/>
<path d="M409.8 2573.97L409.8 2544.43M399.3 2544.43L420.3 2544.43M399.3 2573.97L420.3 2573.97" stroke="#000" stroke-width="4.8" fill="none"/>
<path d="M437.79 2516.38L437.79 2473.56M427.29 2473.56L448.29 2473.56M427.29 2516.38L448.29 2516.38" stroke="#000" stroke-width="4.8" fill="none"/>
<path d="M493.78 2432.95L493.78 2394.56M483.28 2394.56L504.28 2394.56M483.28 2432.95L504.28 2432.95" stroke="#000" stroke-width="4.8" fill="none"/>
<path d="M549.77 2357.64L549.77 2331.07M539.27 2331.07L560.27 2331.07M539.27 2357.64L560.27 2357.64" stroke="#000" stroke-width="4.8" fill="none"/>
<path d="M605.76 2301.53L605.76 2279.38M595.26 2279.38L616.26 2279.38M595.26 2301.53L616.26 2301.53" stroke="#000" stroke-width="4.8" fill="none"/>
<path d="M717.74 2184.14L717.74 2167.9M707.24 2167.9L728.24 2167.9M707.24 2184.14L728.24 2184.14" stroke="#000" stroke-width="4.8" fill="none"/>
<path d="M829.72 2110.31L829.72 2089.64M819.22 2089.64L840.22 2089.64M819.22 2110.31L840.22 2110.31" stroke="#000" stroke-width="4.8" fill="none"/>
<path d="M941.7 2044.6L941.7 2028.36M931.2 2028.36L952.2 2028.36M931.2 2044.6L952.2 2044.6" stroke="#000" stroke-width="4.8" fill="none"/>
<path d="M1053.68 2017.29L1053.68 1989.23M1043.18 1989.23L1064.18 1989.23M1043.18 2017.29L1064.18 2017.29" stroke="#000" stroke-width="4.8" fill="none"/>
<path d="M1277.64 1973.73L1277.64 1958.96M1267.14 1958.96L1288.14 1958.96M1267.14 1973.73L1288.14 1973.73" stroke="#000" stroke-width="4.8" fill="none"/>
<path d="M409.8 2496.44L409.8 2466.91M399.3 2466.91L420.3 2466.91M399.3 2496.44L420.3 2496.44" stroke="#000" stroke-width="4.8" fill="none"/>
<path d="M437.79 2393.08L437.79 2348.78M427.29 2348.78L448.29 2348.78M427.29 2393.08L448.29 2393.08" stroke="#000" stroke-width="4.8" fill="none"/>
<path d="M493.78 2268.31L493.78 2231.39M483.28 2231.39L504.28 2231.39M483.28 2268.31L504.28 2268.31" stroke="#000" stroke-width="4.8" fill="none"/>
<path d="M549.77 2167.9L549.77 2138.37M539.27 2138.37L560.27 2138.37M539.27 2167.9L560.27 2167.9" stroke="#000" stroke-width="4.8" fill="none"/>
<path d="M605.76 2086.69L605.76 2064.54M595.26 2064.54L616.26 2064.54M595.26 2086.69L616.26 2086.69" stroke="#000" stroke-width="4.8" fill="none"/>
<path d="M717.74 2004L717.74 1986.28M707.24 1986.28L728.24 1986.28M707.24 2004L728.24 2004" stroke="#000" stroke-width="4.8" fill="none"/>
<path d="M829.72 1965.61L829.72 1953.79M819.22 1953.79L840.22 1953.79M819.22 1965.61L840.22 1965.61" stroke="#000" stroke-width="4.8" fill="none"/>
<path d="M941.7 1953.06L941.7 1941.24M931.2 1941.24L952.2 1941.24M931.2 1953.06L952.2 1953.06" stroke="#000" stroke-width="4.8" fill="none"/>
<path d="M1053.68 1946.41L1053.68 1937.55M1043.18 1937.55L1064.18 1937.55M1043.18 1946.41L1064.18 1946.41" stroke="#000" stroke-width="4.8" fill="none"/>
<path d="M409.8 2515.64L409.8 2443.29M399.3 2443.29L420.3 2443.29M399.3 2515.64L420.3 2515.64" stroke="#000" stroke-width="4.8" fill="none"/>
<path d="M437.79 2419.29L437.79 2389.76M427.29 2389.76L448.29 2389.76M427.29 2419.29L448.29 2419.29" stroke="#000" stroke-width="4.8" fill="none"/>
<path d="M493.78 2294.15L493.78 2264.62M483.28 2264.62L504.28 2264.62M483.28 2294.15L504.28 2294.15" stroke="#000" stroke-width="4.8" fill="none"/>
<path d="M549.77 2204.82L549.77 2161.99M539.27 2161.99L560.27 2161.99M539.27 2204.82L560.27 2204.82" stroke="#000" stroke-width="4.8" fill="none"/>
<path d="M605.76 2116.96L605.76 2087.43M595.26 2087.43L616.26 2087.43M595.26 2116.96L616.26 2116.96" stroke="#000" stroke-width="4.8" fill="none"/>
<path d="M717.74 2009.17L717.74 1987.02M707.24 1987.02L728.24 1987.02M707.24 2009.17L728.24 2009.17" stroke="#000" stroke-width="4.8" fill="none"/>
<path d="M409.8 2492.01L409.8 2404.9M399.3 2404.9L420.3 2404.9M399.3 2492.01L420.3 2492.01" stroke="#000" stroke-width="4.8" fill="none"/>
<path d="M437.79 2367.98L437.79 2294.15M427.29 2294.15L448.29 2294.15M427.29 2367.98L448.29 2367.98" stroke="#000" stroke-width="4.8" fill="none"/>
<path d="M493.78 2235.82L493.78 2176.02M483.28 2176.02L504.28 2176.02M483.28 2235.82L504.28 2235.82" stroke="#000" stroke-width="4.8" fill="none"/>
<path d="M549.77 2126.56L549.77 2076.35M539.27 2076.35L560.27 2076.35M539.27 2126.56L560.27 2126.56" stroke="#000" stroke-width="4.8" fill="none"/>
<path d="M605.76 2054.2L605.76 2015.81M595.26 2015.81L616.26 2015.81M595.26 2054.2L616.26 2054.2" stroke="#000" stroke-width="4.8" fill="none"/>
<path d="M717.74 1971.51L717.74 1933.12M707.24 1933.12L728.24 1933.12M707.24 1971.51L728.24 1971.51" stroke="#000" stroke-width="4.8" fill="none"/>
<path d="M829.72 1936.07L829.72 1927.21M819.22 1927.21L840.22 1927.21M819.22 1936.07L840.22 1936.07" stroke="#000" stroke-width="4.8" fill="none"/>
<path d="M381.8 2663.3 L409.8 2565.84 L437.79 2501.61 L493.78 2423.35 L549.77 2359.86 L605.76 2297.84 L717.74 2200.39 L829.72 2129.51 L941.7 2059.37 L1053.68 2033.53 L1277.64 1988.49 L1725.56 1947.15" fill="none" stroke="#000" stroke-width="5.5" stroke-linejoin="round" stroke-linecap="round"/>
<rect x="364.8" y="2646.3" width="34" height="34" fill="#000" stroke="#000" stroke-width="3" stroke-linejoin="round"/>
<rect x="392.8" y="2548.84" width="34" height="34" fill="#000" stroke="#000" stroke-width="3" stroke-linejoin="round"/>
<rect x="420.79" y="2484.61" width="34" height="34" fill="#000" stroke="#000" stroke-width="3" stroke-linejoin="round"/>
<rect x="476.78" y="2406.35" width="34" height="34" fill="#000" stroke="#000" stroke-width="3" stroke-linejoin="round"/>
<rect x="532.77" y="2342.86" width="34" height="34" fill="#000" stroke="#000" stroke-width="3" stroke-linejoin="round"/>
<rect x="588.76" y="2280.84" width="34" height="34" fill="#000" stroke="#000" stroke-width="3" stroke-linejoin="round"/>
<rect x="700.74" y="2183.39" width="34" height="34" fill="#000" stroke="#000" stroke-width="3" stroke-linejoin="round"/>
<rect x="812.72" y="2112.51" width="34" height="34" fill="#000" stroke="#000" stroke-width="3" stroke-linejoin="round"/>
<rect x="924.7" y="2042.37" width="34" height="34" fill="#000" stroke="#000" stroke-width="3" stroke-linejoin="round"/>
<rect x="1036.68" y="2016.53" width="34" height="34" fill="#000" stroke="#000" stroke-width="3" stroke-linejoin="round"/>
<rect x="1260.64" y="1971.49" width="34" height="34" fill="#000" stroke="#000" stroke-width="3" stroke-linejoin="round"/>
<rect x="1708.56" y="1930.15" width="34" height="34" fill="#000" stroke="#000" stroke-width="3" stroke-linejoin="round"/>
<path d="M381.8 2663.3 L409.8 2515.64 L437.79 2427.78 L493.78 2314.08 L549.77 2242.47 L605.76 2169.38 L717.74 2072.66 L829.72 2020.98 L941.7 1975.2 L1053.68 1956.01 L1277.64 1937.55 L1725.56 1930.91" fill="none" stroke="#000" stroke-width="5.5" stroke-linejoin="round" stroke-linecap="round"/>
<rect x="370.3" y="2651.8" width="23" height="23" fill="none" stroke="#000" stroke-width="5" stroke-linejoin="round"/>
<rect x="398.3" y="2504.14" width="23" height="23" fill="none" stroke="#000" stroke-width="5" stroke-linejoin="round"/>
<rect x="426.29" y="2416.28" width="23" height="23" fill="none" stroke="#000" stroke-width="5" stroke-linejoin="round"/>
<rect x="482.28" y="2302.58" width="23" height="23" fill="none" stroke="#000" stroke-width="5" stroke-linejoin="round"/>
<rect x="538.27" y="2230.97" width="23" height="23" fill="none" stroke="#000" stroke-width="5" stroke-linejoin="round"/>
<rect x="594.26" y="2157.88" width="23" height="23" fill="none" stroke="#000" stroke-width="5" stroke-linejoin="round"/>
<rect x="706.24" y="2061.16" width="23" height="23" fill="none" stroke="#000" stroke-width="5" stroke-linejoin="round"/>
<rect x="818.22" y="2009.48" width="23" height="23" fill="none" stroke="#000" stroke-width="5" stroke-linejoin="round"/>
<rect x="930.2" y="1963.7" width="23" height="23" fill="none" stroke="#000" stroke-width="5" stroke-linejoin="round"/>
<rect x="1042.18" y="1944.51" width="23" height="23" fill="none" stroke="#000" stroke-width="5" stroke-linejoin="round"/>
<rect x="1266.14" y="1926.05" width="23" height="23" fill="none" stroke="#000" stroke-width="5" stroke-linejoin="round"/>
<rect x="1714.06" y="1919.41" width="23" height="23" fill="none" stroke="#000" stroke-width="5" stroke-linejoin="round"/>
<path d="M381.8 2663.3 L409.8 2559.2 L437.79 2494.97 L493.78 2413.75 L549.77 2344.35 L605.76 2290.46 L717.74 2176.02 L829.72 2099.98 L941.7 2036.48 L1053.68 2003.26 L1277.64 1966.34 L1725.56 1930.17" fill="none" stroke="#87A54C" stroke-width="5.5" stroke-linejoin="round" stroke-linecap="round"/>
<polygon points="381.8,2646.3 398.8,2680.3 364.8,2680.3" fill="#87A54C" stroke="#87A54C" stroke-width="3" stroke-linejoin="round"/>
<polygon points="409.8,2542.2 426.8,2576.2 392.8,2576.2" fill="#87A54C" stroke="#87A54C" stroke-width="3" stroke-linejoin="round"/>
<polygon points="437.79,2477.97 454.79,2511.97 420.79,2511.97" fill="#87A54C" stroke="#87A54C" stroke-width="3" stroke-linejoin="round"/>
<polygon points="493.78,2396.75 510.78,2430.75 476.78,2430.75" fill="#87A54C" stroke="#87A54C" stroke-width="3" stroke-linejoin="round"/>
<polygon points="549.77,2327.35 566.77,2361.35 532.77,2361.35" fill="#87A54C" stroke="#87A54C" stroke-width="3" stroke-linejoin="round"/>
<polygon points="605.76,2273.46 622.76,2307.46 588.76,2307.46" fill="#87A54C" stroke="#87A54C" stroke-width="3" stroke-linejoin="round"/>
<polygon points="717.74,2159.02 734.74,2193.02 700.74,2193.02" fill="#87A54C" stroke="#87A54C" stroke-width="3" stroke-linejoin="round"/>
<polygon points="829.72,2082.98 846.72,2116.98 812.72,2116.98" fill="#87A54C" stroke="#87A54C" stroke-width="3" stroke-linejoin="round"/>
<polygon points="941.7,2019.48 958.7,2053.48 924.7,2053.48" fill="#87A54C" stroke="#87A54C" stroke-width="3" stroke-linejoin="round"/>
<polygon points="1053.68,1986.26 1070.68,2020.26 1036.68,2020.26" fill="#87A54C" stroke="#87A54C" stroke-width="3" stroke-linejoin="round"/>
<polygon points="1277.64,1949.34 1294.64,1983.34 1260.64,1983.34" fill="#87A54C" stroke="#87A54C" stroke-width="3" stroke-linejoin="round"/>
<polygon points="1725.56,1913.17 1742.56,1947.17 1708.56,1947.17" fill="#87A54C" stroke="#87A54C" stroke-width="3" stroke-linejoin="round"/>
<path d="M381.8 2663.3 L409.8 2481.68 L437.79 2370.93 L493.78 2249.85 L549.77 2153.13 L605.76 2075.61 L717.74 1995.14 L829.72 1959.7 L941.7 1947.15 L1053.68 1941.98 L1277.64 1939.03 L1725.56 1930.17" fill="none" stroke="#4F6228" stroke-width="5.5" stroke-linejoin="round" stroke-linecap="round"/>
<polygon points="381.8,2648.05 397.05,2678.55 366.55,2678.55" fill="none" stroke="#4F6228" stroke-width="5.5" stroke-linejoin="round"/>
<polygon points="409.8,2466.43 425.05,2496.93 394.55,2496.93" fill="none" stroke="#4F6228" stroke-width="5.5" stroke-linejoin="round"/>
<polygon points="437.79,2355.68 453.04,2386.18 422.54,2386.18" fill="none" stroke="#4F6228" stroke-width="5.5" stroke-linejoin="round"/>
<polygon points="493.78,2234.6 509.03,2265.1 478.53,2265.1" fill="none" stroke="#4F6228" stroke-width="5.5" stroke-linejoin="round"/>
<polygon points="549.77,2137.88 565.02,2168.38 534.52,2168.38" fill="none" stroke="#4F6228" stroke-width="5.5" stroke-linejoin="round"/>
<polygon points="605.76,2060.36 621.01,2090.86 590.51,2090.86" fill="none" stroke="#4F6228" stroke-width="5.5" stroke-linejoin="round"/>
<polygon points="717.74,1979.89 732.99,2010.39 702.49,2010.39" fill="none" stroke="#4F6228" stroke-width="5.5" stroke-linejoin="round"/>
<polygon points="829.72,1944.45 844.97,1974.95 814.47,1974.95" fill="none" stroke="#4F6228" stroke-width="5.5" stroke-linejoin="round"/>
<polygon points="941.7,1931.9 956.95,1962.4 926.45,1962.4" fill="none" stroke="#4F6228" stroke-width="5.5" stroke-linejoin="round"/>
<polygon points="1053.68,1926.73 1068.93,1957.23 1038.43,1957.23" fill="none" stroke="#4F6228" stroke-width="5.5" stroke-linejoin="round"/>
<polygon points="1277.64,1923.78 1292.89,1954.28 1262.39,1954.28" fill="none" stroke="#4F6228" stroke-width="5.5" stroke-linejoin="round"/>
<polygon points="1725.56,1914.92 1740.81,1945.42 1710.31,1945.42" fill="none" stroke="#4F6228" stroke-width="5.5" stroke-linejoin="round"/>
<path d="M381.8 2663.3 L409.8 2479.46 L437.79 2404.53 L493.78 2279.38 L549.77 2183.41 L605.76 2102.19 L717.74 1998.09 L829.72 1932.38 L941.7 1927.95 L1053.68 1926.48 L1277.64 1927.21 L1725.56 1927.21" fill="none" stroke="#E36C09" stroke-width="5.5" stroke-linejoin="round" stroke-linecap="round"/>
<circle cx="381.8" cy="2663.3" r="16.5" fill="#E36C09" stroke="#E36C09" stroke-width="3" stroke-linejoin="round"/>
<circle cx="409.8" cy="2479.46" r="16.5" fill="#E36C09" stroke="#E36C09" stroke-width="3" stroke-linejoin="round"/>
<circle cx="437.79" cy="2404.53" r="16.5" fill="#E36C09" stroke="#E36C09" stroke-width="3" stroke-linejoin="round"/>
<circle cx="493.78" cy="2279.38" r="16.5" fill="#E36C09" stroke="#E36C09" stroke-width="3" stroke-linejoin="round"/>
<circle cx="549.77" cy="2183.41" r="16.5" fill="#E36C09" stroke="#E36C09" stroke-width="3" stroke-linejoin="round"/>
<circle cx="605.76" cy="2102.19" r="16.5" fill="#E36C09" stroke="#E36C09" stroke-width="3" stroke-linejoin="round"/>
<circle cx="717.74" cy="1998.09" r="16.5" fill="#E36C09" stroke="#E36C09" stroke-width="3" stroke-linejoin="round"/>
<circle cx="829.72" cy="1932.38" r="16.5" fill="#E36C09" stroke="#E36C09" stroke-width="3" stroke-linejoin="round"/>
<circle cx="941.7" cy="1927.95" r="16.5" fill="#E36C09" stroke="#E36C09" stroke-width="3" stroke-linejoin="round"/>
<circle cx="1053.68" cy="1926.48" r="16.5" fill="#E36C09" stroke="#E36C09" stroke-width="3" stroke-linejoin="round"/>
<circle cx="1277.64" cy="1927.21" r="16.5" fill="#E36C09" stroke="#E36C09" stroke-width="3" stroke-linejoin="round"/>
<circle cx="1725.56" cy="1927.21" r="16.5" fill="#E36C09" stroke="#E36C09" stroke-width="3" stroke-linejoin="round"/>
<path d="M381.8 2663.3 L409.8 2448.45 L437.79 2331.07 L493.78 2212.94 L549.77 2101.45 L605.76 2035.01 L717.74 1952.32 L829.72 1931.64 L941.7 1927.21 L1053.68 1926.48 L1277.64 1927.21 L1725.56 1927.21" fill="none" stroke="#E36C09" stroke-width="5.5" stroke-linejoin="round" stroke-linecap="round"/>
<circle cx="381.8" cy="2663.3" r="14.75" fill="none" stroke="#E0823E" stroke-width="5.5" stroke-linejoin="round"/>
<circle cx="409.8" cy="2448.45" r="14.75" fill="none" stroke="#E0823E" stroke-width="5.5" stroke-linejoin="round"/>
<circle cx="437.79" cy="2331.07" r="14.75" fill="none" stroke="#E0823E" stroke-width="5.5" stroke-linejoin="round"/>
<circle cx="493.78" cy="2212.94" r="14.75" fill="none" stroke="#E0823E" stroke-width="5.5" stroke-linejoin="round"/>
<circle cx="549.77" cy="2101.45" r="14.75" fill="none" stroke="#E0823E" stroke-width="5.5" stroke-linejoin="round"/>
<circle cx="605.76" cy="2035.01" r="14.75" fill="none" stroke="#E0823E" stroke-width="5.5" stroke-linejoin="round"/>
<circle cx="717.74" cy="1952.32" r="14.75" fill="none" stroke="#E0823E" stroke-width="5.5" stroke-linejoin="round"/>
<circle cx="829.72" cy="1931.64" r="14.75" fill="none" stroke="#E0823E" stroke-width="5.5" stroke-linejoin="round"/>
<circle cx="941.7" cy="1927.21" r="14.75" fill="none" stroke="#E0823E" stroke-width="5.5" stroke-linejoin="round"/>
<circle cx="1053.68" cy="1926.48" r="14.75" fill="none" stroke="#E0823E" stroke-width="5.5" stroke-linejoin="round"/>
<circle cx="1277.64" cy="1927.21" r="14.75" fill="none" stroke="#E0823E" stroke-width="5.5" stroke-linejoin="round"/>
<circle cx="1725.56" cy="1927.21" r="14.75" fill="none" stroke="#E0823E" stroke-width="5.5" stroke-linejoin="round"/>
<path d="M381.8 2663.3 L409.8 1928.69 L437.79 1930.17 L493.78 1930.17 L549.77 1932.38 L605.76 1931.64" fill="none" stroke="#000" stroke-width="5.5" stroke-linejoin="round" stroke-linecap="round"/>
<path d="M365.3 2646.8L398.3 2679.8M365.3 2679.8L398.3 2646.8M381.8 2646.8L381.8 2679.8" fill="none" stroke="#000" stroke-width="5" stroke-linecap="butt"/>
<path d="M393.3 1912.19L426.3 1945.19M393.3 1945.19L426.3 1912.19M409.8 1912.19L409.8 1945.19" fill="none" stroke="#000" stroke-width="5" stroke-linecap="butt"/>
<path d="M421.29 1913.67L454.29 1946.67M421.29 1946.67L454.29 1913.67M437.79 1913.67L437.79 1946.67" fill="none" stroke="#000" stroke-width="5" stroke-linecap="butt"/>
<path d="M477.28 1913.67L510.28 1946.67M477.28 1946.67L510.28 1913.67M493.78 1913.67L493.78 1946.67" fill="none" stroke="#000" stroke-width="5" stroke-linecap="butt"/>
<path d="M533.27 1915.88L566.27 1948.88M533.27 1948.88L566.27 1915.88M549.77 1915.88L549.77 1948.88" fill="none" stroke="#000" stroke-width="5" stroke-linecap="butt"/>
<path d="M589.26 1915.14L622.26 1948.14M589.26 1948.14L622.26 1915.14M605.76 1915.14L605.76 1948.14" fill="none" stroke="#000" stroke-width="5" stroke-linecap="butt"/>
<rect x="1363.7" y="2099.2" width="306.3" height="542.5" fill="#fff" stroke="#000" stroke-width="3.5"/>
<path d="M1380 2137.7L1468.2 2137.7" stroke="#000" stroke-width="5" stroke-linecap="round"/>
<rect x="1411.5" y="2125.2" width="25" height="25" fill="#000" stroke="#000" stroke-width="3" stroke-linejoin="round"/>
<text x="1476.8" y="2151" font-size="42">F15</text>
<path d="M1380 2215.3L1468.2 2215.3" stroke="#000" stroke-width="5" stroke-linecap="round"/>
<rect x="1412.5" y="2203.8" width="23" height="23" fill="none" stroke="#000" stroke-width="5" stroke-linejoin="round"/>
<text x="1476.8" y="2228.6" font-size="42">F15*</text>
<path d="M1380 2292.9L1468.2 2292.9" stroke="#87A54C" stroke-width="5" stroke-linecap="round"/>
<polygon points="1424,2280.4 1436.5,2305.4 1411.5,2305.4" fill="#87A54C" stroke="#87A54C" stroke-width="3" stroke-linejoin="round"/>
<text x="1476.8" y="2306.2" font-size="42">F2</text>
<path d="M1380 2370.5L1468.2 2370.5" stroke="#4F6228" stroke-width="5" stroke-linecap="round"/>
<polygon points="1424,2359 1435.5,2382 1412.5,2382" fill="none" stroke="#4F6228" stroke-width="5" stroke-linejoin="round"/>
<text x="1476.8" y="2383.8" font-size="42">F2*</text>
<path d="M1380 2448.1L1468.2 2448.1" stroke="#E36C09" stroke-width="5" stroke-linecap="round"/>
<circle cx="1424" cy="2448.1" r="12.5" fill="#E36C09" stroke="#E36C09" stroke-width="3" stroke-linejoin="round"/>
<text x="1476.8" y="2461.4" font-size="42">F0</text>
<path d="M1380 2525.7L1468.2 2525.7" stroke="#E36C09" stroke-width="5" stroke-linecap="round"/>
<circle cx="1424" cy="2525.7" r="11.5" fill="none" stroke="#E0823E" stroke-width="5" stroke-linejoin="round"/>
<text x="1476.8" y="2539" font-size="42">F0*</text>
<path d="M1380 2603.3L1468.2 2603.3" stroke="#000" stroke-width="5" stroke-linecap="round"/>
<path d="M1412 2591.3L1436 2615.3M1412 2615.3L1436 2591.3M1424 2591.3L1424 2615.3" fill="none" stroke="#000" stroke-width="5" stroke-linecap="butt"/>
<text x="1476.8" y="2616.6" font-size="42">Metformin</text>
</g>
</svg>
</body></html>
